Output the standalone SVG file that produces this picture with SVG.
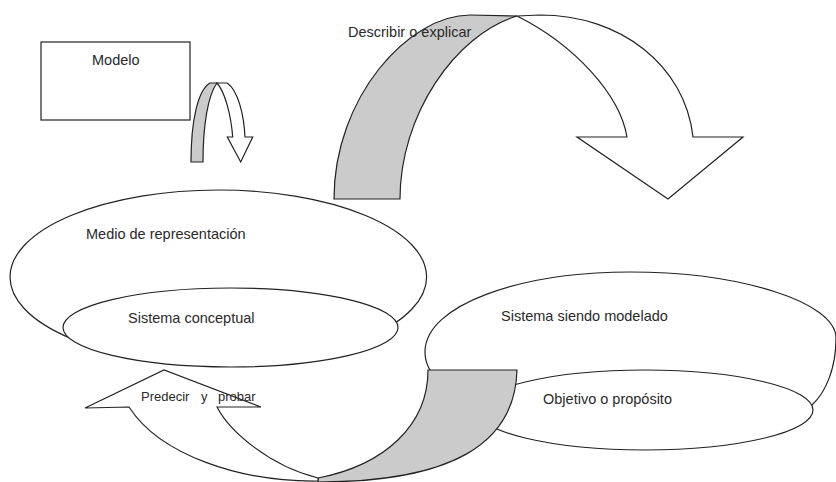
<svg xmlns="http://www.w3.org/2000/svg" width="836" height="482" viewBox="0 0 836 482">
<style>
.shape{fill:#ffffff;stroke:#222222;stroke-width:1.2;stroke-linejoin:miter}
.back{fill:#cbcbcb;stroke:#222222;stroke-width:1.2;stroke-linejoin:miter}
.label{font-family:"Liberation Sans",Arial,sans-serif;font-size:14.5px;fill:#2a2a2a}
.small{font-size:13px}
</style>
<rect width="836" height="482" fill="#ffffff"/>
<g id="modelo">
<rect class="shape" x="41" y="42" width="149" height="78"/>
<text class="label" x="92" y="65">Modelo</text>
</g>
<g id="medio-de-representacion">
<ellipse class="shape" cx="218.3" cy="277" rx="208.3" ry="87"/>
<text class="label" x="86" y="239">Medio de representación</text>
</g>
<g id="sistema-conceptual">
<ellipse class="shape" cx="230.5" cy="327.5" rx="167.5" ry="39.5"/>
<text class="label" x="128" y="323">Sistema conceptual</text>
</g>
<g id="sistema-siendo-modelado">
<path class="shape" d="M425,352 C425,305 520,272 630,272 C740,272 836,302 836,338 C836,368 826,392 812,405 C790,420 700,420 630,420 C520,420 425,400 425,352 Z"/>
<text class="label" x="501" y="321">Sistema siendo modelado</text>
</g>
<g id="objetivo-o-proposito">
<ellipse class="shape" cx="645" cy="410" rx="168" ry="40"/>
<text class="label" x="543" y="404">Objetivo o propósito</text>
</g>
<g id="connectors">
<g id="arrow-modelo">
<path class="back" d="M191,162 C191,120 198,90 210,83 L217,83 C208,95 203,125 203,162 Z"/>
<path class="shape" d="M217,83 L227,83 C238,90 244,115 245,137 L252.7,137 L240.7,162 L227.3,137 L232.7,137 C231,115 225,92 217,83 Z"/>
</g>
<g id="arrow-describir">
<path class="back" d="M334,199 C334,97 409,15 470,15 L517,16 C455,35 400,115 400,199 Z"/>
<path class="shape" d="M517,16 L540,15 C620,15 685,65 693,137 L743,137 L668,199 L577,137 L627,137 C620,95 575,45 517,16 Z"/>
<text class="label" x="348" y="37">Describir o explicar</text>
</g>
<g id="arrow-predecir">
<path class="back" d="M318,478 C385,465 428,425 428,370 L517,370 C515,445 450,482 318,482 Z"/>
<path class="shape" d="M85,408 L164,370 L261,407 L217,407 C230,432 270,466 318,478 L318,481 C240,482 160,455 129,407 Z"/>
<text class="label small" y="401"><tspan x="141">Predecir</tspan><tspan x="201">y</tspan><tspan x="218">probar</tspan></text>
</g>
</g>
</svg>
